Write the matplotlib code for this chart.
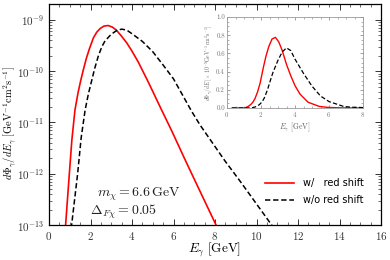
import numpy as np
import matplotlib
matplotlib.use("Agg")
import matplotlib.pyplot as plt
from matplotlib.ticker import MultipleLocator, LogLocator, NullFormatter

plt.rcParams['mathtext.fontset'] = 'cm'
plt.rcParams['font.family'] = ['cmr10', 'DejaVu Sans']
plt.rcParams['axes.formatter.use_mathtext'] = True
plt.rcParams['axes.unicode_minus'] = False

# Data: photon energy (GeV) and log10 of flux
E_red = [0.3, 0.8, 0.98, 1.1, 1.25, 1.4, 1.53, 1.65, 1.8, 1.95, 2.14, 2.3, 2.46, 2.65, 2.85,
         3.05, 3.25, 3.5, 3.75, 4.0, 4.3, 4.77, 5.43, 5.91, 6.55, 7.04, 8.05, 8.3]
logF_red = [-20, -13.0, -12.0, -11.35, -10.76, -10.42, -10.18, -9.98, -9.75, -9.56, -9.35, -9.24,
            -9.17, -9.12, -9.11, -9.14, -9.2, -9.32, -9.45, -9.61, -9.82, -10.2, -10.76, -11.16,
            -11.72, -12.14, -13.0, -13.2]
E_blk = [0.3, 1.09, 1.38, 1.55, 1.74, 1.9, 2.06, 2.2, 2.38, 2.55, 2.7, 3.0, 3.25, 3.5, 3.75, 4.0,
         4.5, 5.0, 5.5, 6.0, 6.87, 7.28, 8.48, 9.2, 10.73, 11.0]
logF_blk = [-20, -13.0, -12.0, -11.3, -10.76, -10.44, -10.18, -9.95, -9.7, -9.52, -9.41, -9.28,
            -9.21, -9.18, -9.2, -9.27, -9.42, -9.62, -9.88, -10.15, -10.78, -11.05, -11.75,
            -12.14, -13.0, -13.15]

F_red = 10.0 ** np.array(logF_red)
F_blk = 10.0 ** np.array(logF_blk)

fig = plt.figure(figsize=(3.9, 2.6), dpi=100)
ax = fig.add_axes([49/390, 1-225/260, 332/390, 221/260])
ax.semilogy(E_red, F_red, color='red', lw=1.2, label='w/   red shift')
ax.semilogy(E_blk, F_blk, color='black', lw=1.1, ls=(0, (3.5, 1.8)), label='w/o red shift')
ax.set_xlim(0, 16)
ax.set_ylim(1e-13, 10**-8.69)
ax.xaxis.set_major_locator(MultipleLocator(2))
ax.xaxis.set_minor_locator(MultipleLocator(0.5))
ax.yaxis.set_major_locator(LogLocator(base=10, numticks=20))
ax.yaxis.set_minor_locator(LogLocator(base=10, subs=np.arange(2, 10), numticks=20))
ax.yaxis.set_minor_formatter(NullFormatter())
ax.tick_params(which='both', direction='in', top=True, right=True, labelsize=8, colors='#333333')
ax.tick_params(which='major', length=4, width=0.7)
ax.tick_params(which='minor', length=2, width=0.5)
for s in ax.spines.values():
    s.set_linewidth(0.9)
ax.set_xlabel(r'$E_\gamma\ [\mathrm{GeV}]$', fontsize=9.5)
ax.xaxis.set_label_coords(0.5, -0.072)
ax.set_ylabel(r'$d\Phi_\gamma/dE_\gamma\ [\mathrm{GeV}^{-1}\mathrm{cm}^2\mathrm{s}^{-1}]$', fontsize=7.5)
ax.yaxis.set_label_coords(-0.092, 0.46)

ax.text(2.3, 10**-12.45, r'$m_\chi = 6.6\,\mathrm{GeV}$', fontsize=10, color='#222222')
ax.text(2.0, 10**-12.8, r'$\Delta_{F\chi} = 0.05$', fontsize=10, color='#222222')

leg = ax.legend(loc='lower right', bbox_to_anchor=(0.975, 0.05), frameon=False,
                handlelength=3.0, handletextpad=0.9, labelspacing=0.75,
                prop={'family': 'DejaVu Sans', 'size': 7})

# Inset
axi = fig.add_axes([227/390, 1-108/260, 136/390, 91/260])
axi.plot(E_red, F_red * 1e9, color='red', lw=1.0)
axi.plot(E_blk, F_blk * 1e9, color='black', lw=0.9, ls=(0, (3.5, 1.8)))
axi.set_xlim(0, 8)
axi.set_ylim(0, 1.0)
axi.xaxis.set_major_locator(MultipleLocator(2))
axi.xaxis.set_minor_locator(MultipleLocator(0.5))
axi.yaxis.set_major_locator(MultipleLocator(0.2))
axi.yaxis.set_minor_locator(MultipleLocator(0.05))
axi.yaxis.set_major_formatter(matplotlib.ticker.FormatStrFormatter('%.1f'))
axi.tick_params(which='both', direction='in', top=True, right=True, labelsize=5,
                colors='#777777', pad=1.5)
axi.tick_params(which='major', length=2.5, width=0.5)
axi.tick_params(which='minor', length=1.2, width=0.4)
for s in axi.spines.values():
    s.set_linewidth(0.6)
    s.set_color('#999999')
axi.set_xlabel(r'$E_\gamma\ [\mathrm{GeV}]$', fontsize=5.5, labelpad=0.5, color='#666666')
axi.set_ylabel(r'$d\Phi_\gamma/dE\ [\times\ 10^{-9}\mathrm{GeV}^{-1}\mathrm{cm}^2\mathrm{s}^{-1}]$',
               fontsize=4, labelpad=1, color='#666666')

fig.savefig('out.png', dpi=100)
